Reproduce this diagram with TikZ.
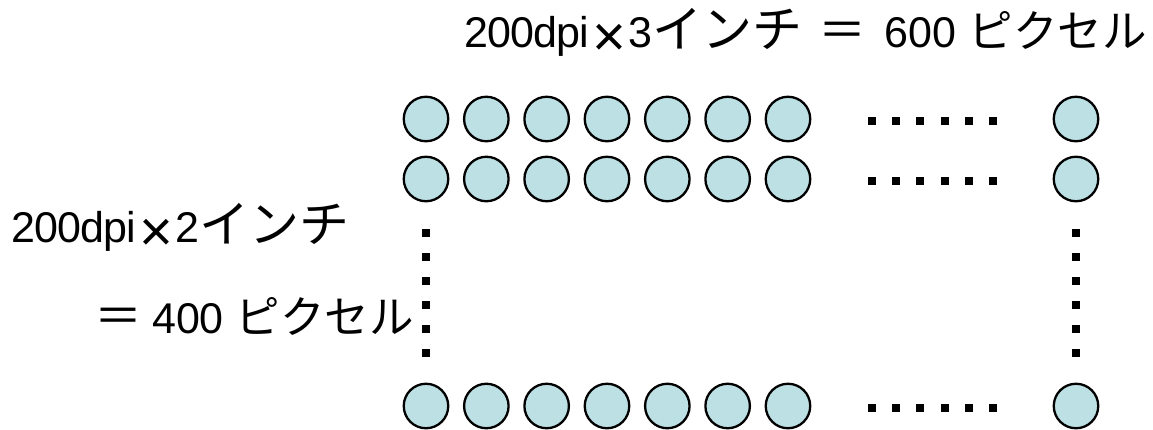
\documentclass[tikz,border=0pt]{standalone}
\usepackage{fontspec}
\setmainfont{Liberation Sans}
\newfontfamily\jpfont{Noto Sans CJK JP}
\definecolor{cfill}{RGB}{188,224,228}
\newcommand{\jpw}[1]{{\fontsize{50}{50}\jpfont #1}}
\newcommand{\jpn}[1]{{\fontsize{44.5}{50}\jpfont #1}}
\newcommand{\jeq}{{\fontsize{48}{50}\jpfont ＝}}
\newcommand{\dpitxt}{{\addfontfeature{LetterSpace=-2}200dpi}}
\newcommand{\tms}{\kern3pt\raisebox{-9pt}{\fontsize{58}{58}\selectfont ×}\kern3pt}
\begin{document}
\begin{tikzpicture}[x=1pt,y=-1pt,
  pxl/.style={circle,draw=black,line width=2.3pt,fill=cfill,minimum size=44.5pt,inner sep=0pt},
  sq/.style={fill=black,minimum size=8pt,inner sep=0pt,draw=none,rectangle},
  lbl/.style={inner sep=0pt,font=\fontsize{43}{50}\selectfont}]
\useasboundingbox (0,0) rectangle (1153,429);
% grid of pixels
\foreach \i in {0,...,6}{
  \node[pxl] (a\i) at ({426+60.33*\i},119) {};
  \node[pxl] (b\i) at ({426+60.33*\i},179) {};
  \node[pxl] (z\i) at ({426+60.33*\i},406) {};
}
\node[pxl] (aN) at (1076,119) {};
\node[pxl] (bN) at (1076,179) {};
\node[pxl] (zN) at (1076,406) {};
% horizontal dots
\foreach \k in {0,...,5}{
  \node[sq] (ha\k) at ({872+24.2*\k},121) {};
  \node[sq] (hb\k) at ({872+24.2*\k},181) {};
  \node[sq] (hz\k) at ({872+24.2*\k},408) {};
}
% vertical dots
\foreach \k in {0,...,5}{
  \node[sq] (vl\k) at (426,{233+24*\k}) {};
  \node[sq] (vr\k) at (1076,{233+24*\k}) {};
}
% labels
\node[lbl,anchor=base west] (top) at (464,47) {\dpitxt\tms3\jpw{インチ}\hspace{16pt}\jeq\hspace{18pt}600 \jpn{ピクセル}};
\node[lbl,anchor=base west] (l1) at (11,242) {\dpitxt\tms2\jpw{インチ}};
\node[lbl,anchor=base east] (l2) at (414,333) {\jeq\hspace{10pt}400 \jpn{ピクセル}};
\end{tikzpicture}
\end{document}
